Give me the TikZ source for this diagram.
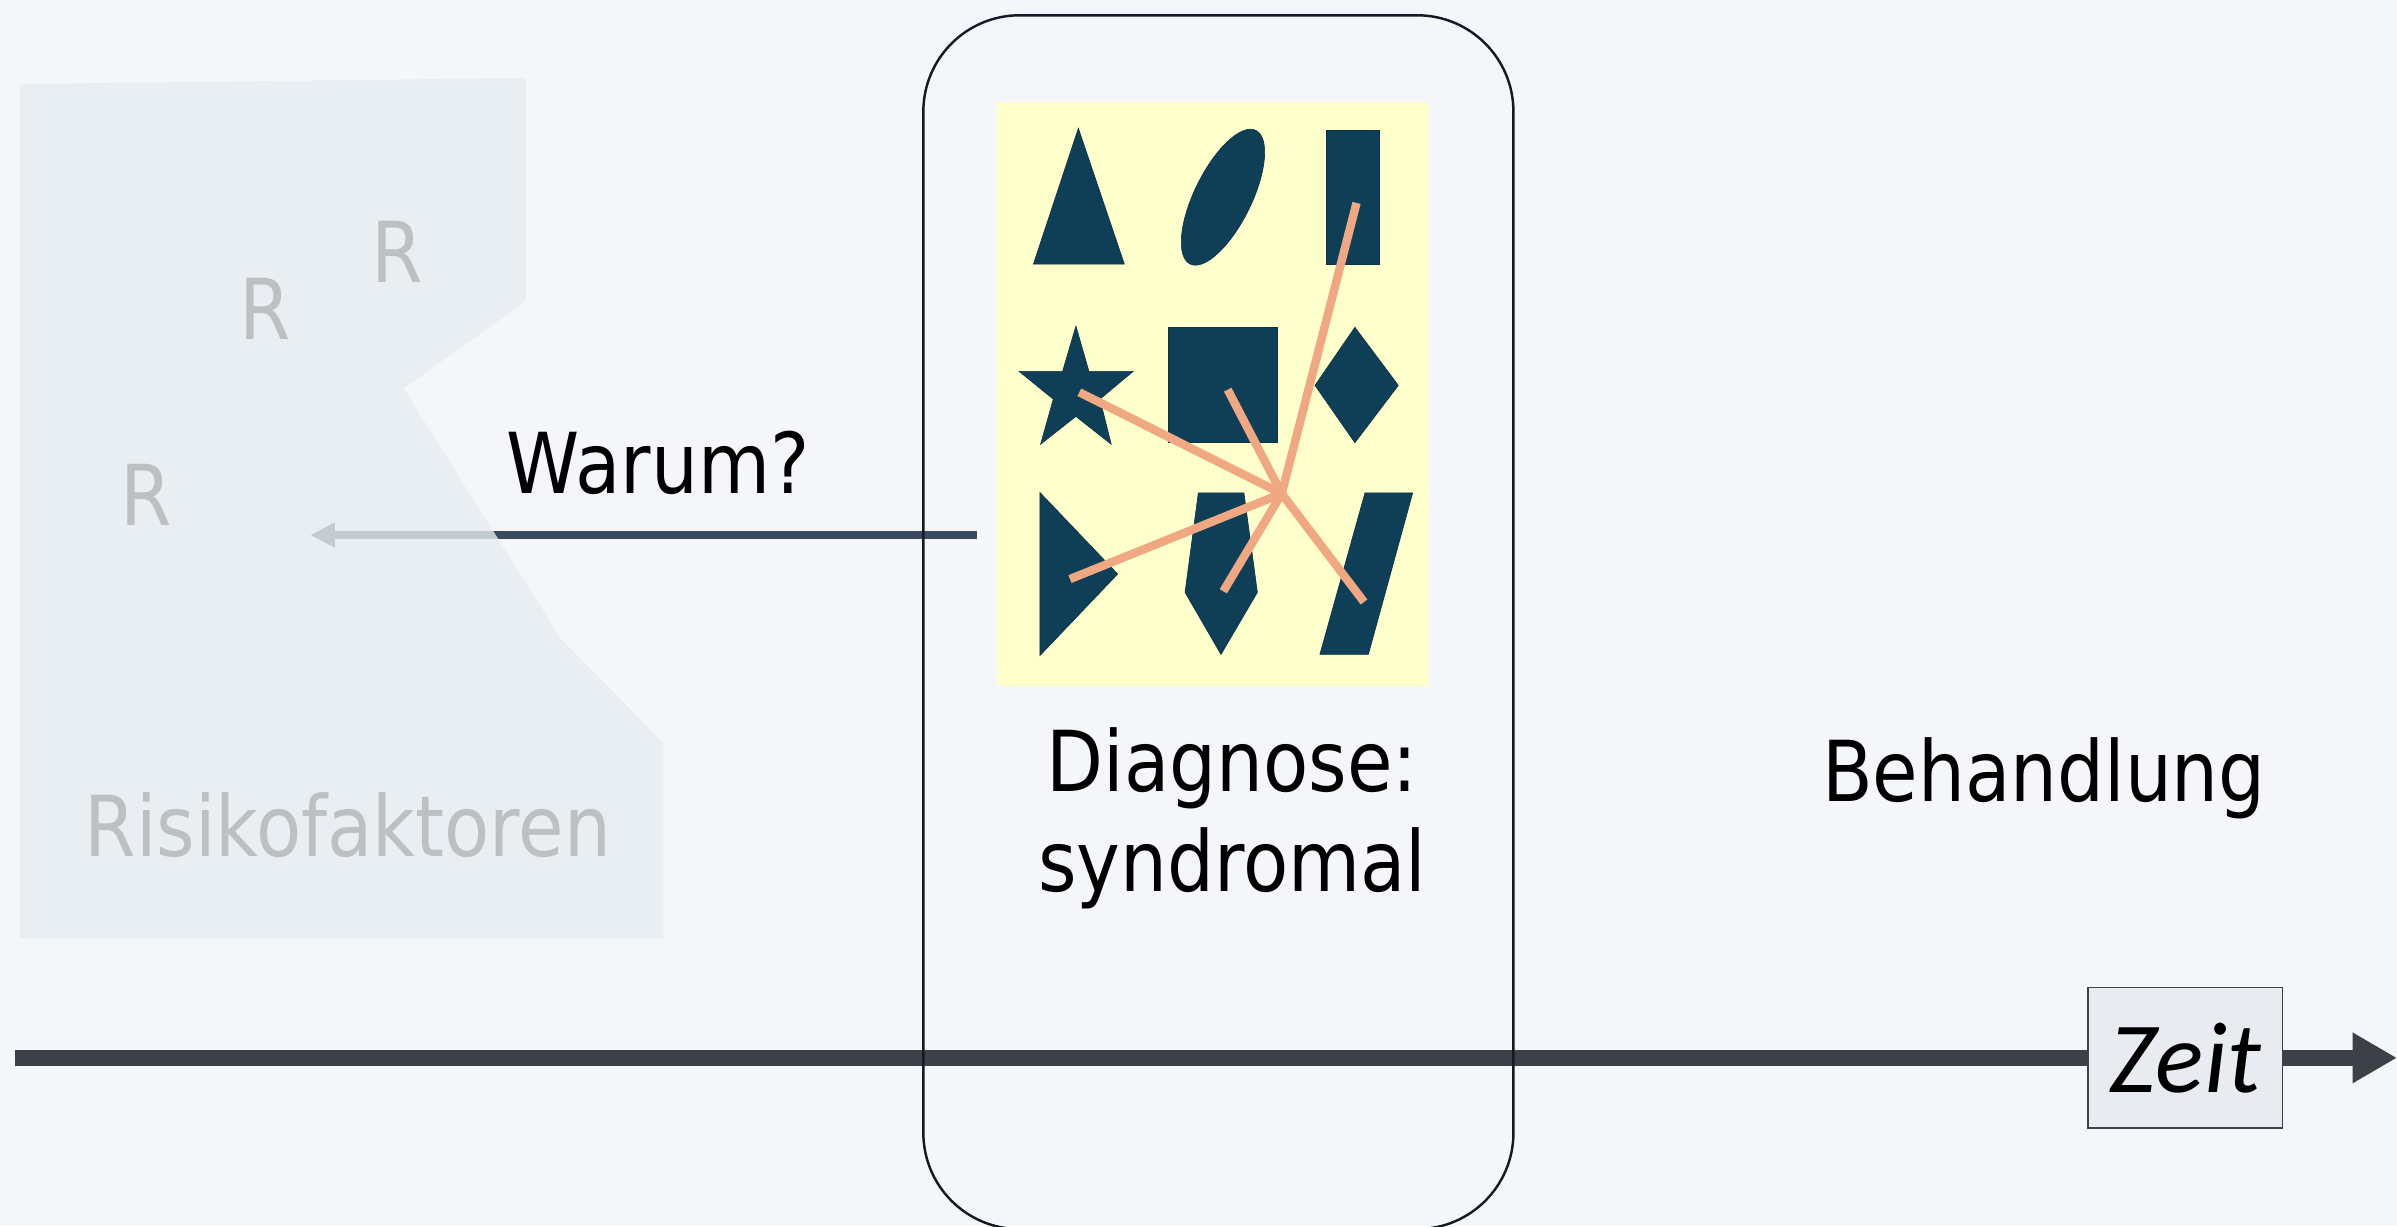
\documentclass[tikz,border=0pt]{standalone}
\usepackage{fontspec}
\setmainfont{DejaVu Sans}[FakeStretch=0.88]
\newfontfamily\zeitfont{Carlito}
\usetikzlibrary{arrows.meta}
\definecolor{bgc}{RGB}{244,246,250}
\definecolor{riskfill}{RGB}{231,237,241}
\definecolor{riskgray}{RGB}{188,192,195}
\definecolor{shapeteal}{RGB}{14,63,87}
\definecolor{raysalmon}{RGB}{239,168,130}
\definecolor{paleyellow}{RGB}{255,255,204}
\definecolor{arrowblue}{RGB}{58,75,95}
\definecolor{timegray}{RGB}{60,64,72}
\definecolor{zeitfill}{RGB}{232,236,240}
\definecolor{boxline}{RGB}{20,25,35}
\begin{document}
\begin{tikzpicture}[x=1pt,y=-1pt,
  bigtext/.style={font=\fontsize{55}{65}\selectfont, anchor=base, inner sep=0pt},
  risktext/.style={bigtext, text=riskgray},
  shapefill/.style={fill=shapeteal, draw=shapeteal!80!black, line width=0.4pt},
  ray/.style={draw=raysalmon, line width=5.5pt},
  timeline/.style={draw=timegray, line width=10.5pt},
]
\useasboundingbox (0,0) rectangle (1568,802);
\fill[bgc] (0,0) rectangle (1568,802);

% yellow panel
\fill[paleyellow] (652,67) rectangle (935,449);

% shapes
\fill[shapefill] (705.4,83.9) -- (735.5,172.8) -- (676.0,172.8) -- cycle;
\fill[shapefill, shift={(800,129)}, rotate=63.8] (0,0) ellipse [x radius=48.7, y radius=18.7];
\fill[shapefill] (867.8,85.1) rectangle (902.1,172.8);
\fill[shapefill] (703.8,213.3) -- (712.3,242.9) -- (741.3,242.9) -- (719.5,261.1) -- (726.9,290.6)
  -- (703.8,272.4) -- (680.7,290.6) -- (689.0,261.1) -- (666.6,242.9) -- (695.1,242.9) -- cycle;
\fill[shapefill] (764.3,214.1) rectangle (835.7,289.6);
\fill[shapefill] (886.3,214.1) -- (914.7,252.1) -- (886.3,289.6) -- (860.2,252.1) -- cycle;
\fill[shapefill] (680.3,322.2) -- (731.1,375.5) -- (680.3,428.8) -- cycle;
\fill[shapefill] (783.9,322.4) -- (813.7,322.4) -- (822.5,387.5) -- (798.7,428.1) -- (775.2,387.5) -- cycle;
\fill[shapefill] (892.9,322.4) -- (924.1,322.4) -- (895.1,428.1) -- (863.4,428.1) -- cycle;

% rays from hub
\coordinate (hub) at (838.4,322.9);
\coordinate (rrect) at (887.4,132.7);
\coordinate (rstar) at (706.0,256.6);
\coordinate (rsquare) at (803.1,254.9);
\coordinate (rtri) at (699.9,378.8);
\coordinate (rpent) at (800.2,386.8);
\coordinate (rpara) at (892.3,393.8);
\foreach \e in {rrect,rstar,rsquare,rtri,rpent,rpara}{
  \draw[ray] (hub) -- (\e);
}

% Warum arrow
\coordinate (wstart) at (639,350);
\coordinate (wend) at (203,350);
\draw[arrowblue, line width=5.3pt, -{Triangle[length=16pt,width=15.5pt]}] (wstart) -- (wend);
\node[bigtext] (warum) at (430.5,323) {Warum?};

% timeline
\node[draw=timegray, fill=zeitfill, line width=1pt, minimum width=127pt, minimum height=92pt,
  inner sep=0pt, font=\zeitfont\itshape\fontsize{66}{72}\selectfont] (zeit) at (1429.5,692) {Zeit};
\coordinate (tstart) at (10,692);
\coordinate (tend) at (1568,692);
\draw[timeline] (tstart) -- (zeit.west);
\draw[timeline, -{Triangle[length=29pt,width=31pt]}] (zeit.east) -- (tend);

% diagnosis rounded box
\draw[boxline, line width=1.6pt, rounded corners=63pt] (604,10) rectangle (990,804);

% risk factor region (semi-transparent, on top)
\fill[riskfill, fill opacity=0.8] (13,55) -- (344,51) -- (344,197) -- (264,254) -- (367,418)
  -- (434,486) -- (434,614) -- (13,614) -- cycle;
\node[risktext] (r1) at (260,185) {R};
\node[risktext] (r2) at (173.5,222) {R};
\node[risktext] (r3) at (95.5,344) {R};
\node[risktext] (risiko) at (227.5,560) {Risikofaktoren};

% labels
\node[bigtext] (diag1) at (806,518) {Diagnose:};
\node[bigtext] (diag2) at (806,583) {syndromal};
\node[bigtext] (behand) at (1337,524) {Behandlung};
\end{tikzpicture}
\end{document}
